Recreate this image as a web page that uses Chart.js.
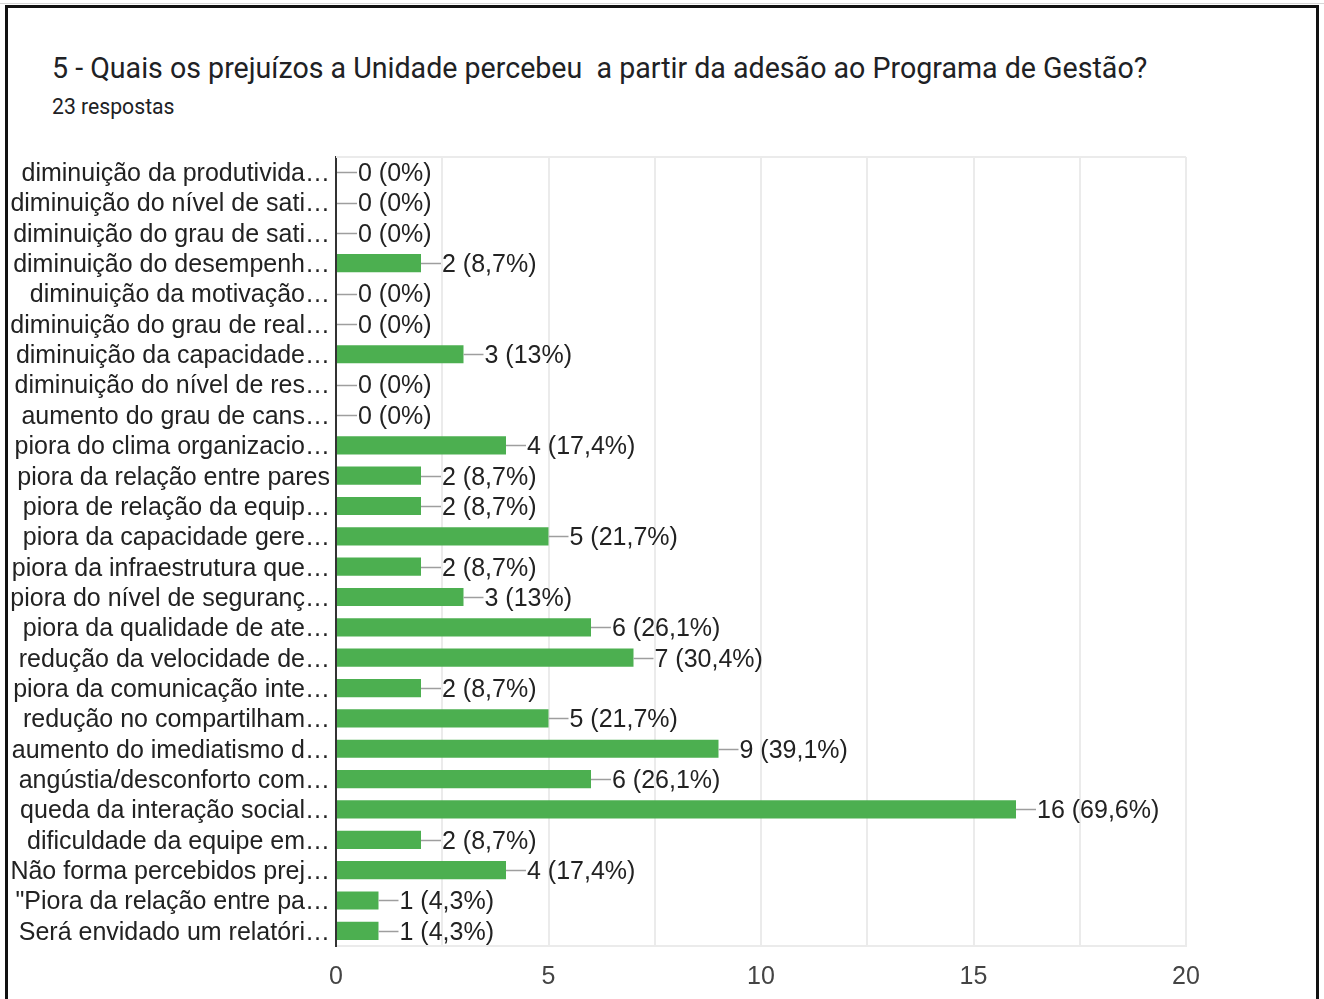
<!DOCTYPE html>
<html>
<head>
<meta charset="utf-8">
<script src="https://cdn.jsdelivr.net/npm/chart.js@4/dist/chart.umd.min.js"></script>
<style>
  html, body { margin:0; padding:0; background:#fff; }
  body { width:1324px; height:999px; position:relative; overflow:hidden; }
  #frame { position:absolute; left:5px; top:5px; width:1308px; height:1000px; border:3px solid #111; border-bottom:none; }
  #topline { position:absolute; left:0; top:3px; width:1324px; height:1px; background:#d6d6d6; }
  #title { position:absolute; left:52px; top:51px; font-family:Roboto, "Noto Sans", sans-serif; font-size:28.6px; color:#202124; white-space:pre; }
  #sub { position:absolute; left:52px; top:94px; font-family:Roboto, "Noto Sans", sans-serif; font-size:21.2px; color:#202124; white-space:pre; }
  canvas { position:absolute; left:0; top:0; }
</style>
</head>
<body>
<div id="topline"></div>
<div id="frame"></div>
<div id="title">5 - Quais os prejuízos a Unidade percebeu  a partir da adesão ao Programa de Gestão?</div>
<div id="sub">23 respostas</div>
<canvas id="c" width="1324" height="999"></canvas>
<script>
const categories = [
  "diminuição da produtivida…",
  "diminuição do nível de sati…",
  "diminuição do grau de sati…",
  "diminuição do desempenh…",
  "diminuição da motivação…",
  "diminuição do grau de real…",
  "diminuição da capacidade…",
  "diminuição do nível de res…",
  "aumento do grau de cans…",
  "piora do clima organizacio…",
  "piora da relação entre pares",
  "piora de relação da equip…",
  "piora da capacidade gere…",
  "piora da infraestrutura que…",
  "piora do nível de seguranç…",
  "piora da qualidade de ate…",
  "redução da velocidade de…",
  "piora da comunicação inte…",
  "redução no compartilham…",
  "aumento do imediatismo d…",
  "angústia/desconforto com…",
  "queda da interação social…",
  "dificuldade da equipe em…",
  "Não forma percebidos prej…",
  "\"Piora da relação entre pa…",
  "Será envidado um relatóri…"
];
const counts = [0,0,0,2,0,0,3,0,0,4,2,2,5,2,3,6,7,2,5,9,6,16,2,4,1,1];
const percents = ["0%","0%","0%","8,7%","0%","0%","13%","0%","0%","17,4%","8,7%","8,7%","21,7%","8,7%","13%","26,1%","30,4%","8,7%","21,7%","39,1%","26,1%","69,6%","8,7%","17,4%","4,3%","4,3%"];
const xTicks = [0,5,10,15,20];

const FONT = '"Liberation Sans", Arial, sans-serif';
const GRID = '#ebebeb';

const valueLabels = {
  id: 'valueLabels',
  afterDatasetsDraw(chart) {
    const ctx = chart.ctx;
    const meta = chart.getDatasetMeta(0);
    ctx.save();
    ctx.font = '25px ' + FONT;
    ctx.textBaseline = 'middle';
    ctx.textAlign = 'left';
    meta.data.forEach((bar, i) => {
      const x0 = Math.max(bar.x, chart.chartArea.left + 1);
      const y = Math.round(bar.y) + 0.5;
      ctx.strokeStyle = '#9e9e9e';
      ctx.lineWidth = 1.5;
      ctx.beginPath();
      ctx.moveTo(x0, y);
      ctx.lineTo(x0 + 20, y);
      ctx.stroke();
      ctx.fillStyle = '#222';
      ctx.fillText(counts[i] + ' (' + percents[i] + ')', x0 + 21, bar.y + 2);
    });
    ctx.restore();
  }
};

const boxTop = {
  id: 'boxTop',
  beforeDatasetsDraw(chart) {
    const {ctx, chartArea} = chart;
    ctx.save();
    ctx.strokeStyle = GRID;
    ctx.lineWidth = 2;
    ctx.beginPath();
    ctx.moveTo(chartArea.left, chartArea.top);
    ctx.lineTo(chartArea.right, chartArea.top);
    ctx.stroke();
    ctx.restore();
  }
};

new Chart(document.getElementById('c'), {
  type: 'bar',
  data: {
    labels: categories,
    datasets: [{
      data: counts,
      backgroundColor: '#4caf50',
      borderWidth: 0,
      categoryPercentage: 1,
      barPercentage: 0.6
    }]
  },
  options: {
    indexAxis: 'y',
    responsive: false,
    animation: false,
    events: [],
    layout: { padding: { top: 157, right: 138, bottom: 0, left: 0 } },
    plugins: { legend: { display: false }, tooltip: { enabled: false }, title: { display: false } },
    scales: {
      x: {
        min: 0, max: 20,
        afterFit(s) { s.height = 53; },
        afterBuildTicks(s) {
          const t = [];
          for (let v = 0; v <= 20; v += 2.5) t.push({ value: v });
          s.ticks = t;
        },
        ticks: {
          autoSkip: false,
          maxRotation: 0,
          padding: 16,
          color: '#444',
          font: { family: FONT, size: 25 },
          callback: (v) => xTicks.includes(v) ? String(v) : ''
        },
        grid: { color: GRID, lineWidth: 2, drawTicks: false },
        border: { color: GRID, width: 2 }
      },
      y: {
        afterFit(s) { s.width = 336; },
        ticks: {
          autoSkip: false,
          padding: 6,
          labelOffset: 2,
          color: '#222',
          font: { family: FONT, size: 25 }
        },
        grid: { display: false, drawTicks: false },
        border: { display: true, color: '#333', width: 2 }
      }
    }
  },
  plugins: [boxTop, valueLabels]
});
</script>
</body>
</html>
